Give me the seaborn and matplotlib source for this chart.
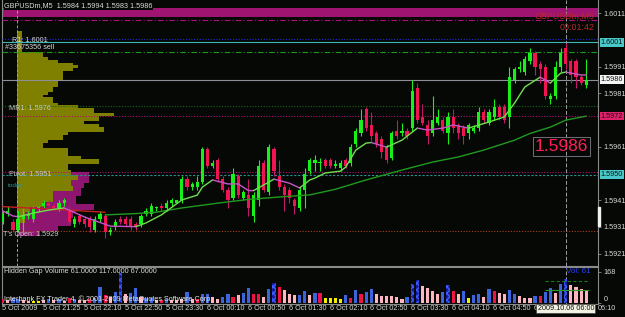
import numpy as np
import matplotlib
matplotlib.use("Agg")
import matplotlib.pyplot as plt
import matplotlib.transforms as mtransforms
from matplotlib.patches import Rectangle
import seaborn as sns

# ---------------- data ----------------
opens = [1.5933,1.5936,1.5933,1.5930,1.5934,1.5935,1.5934,1.5938,1.5939,1.5940,
         1.5939,1.5938,1.5940,1.5937,1.5932,1.5935,1.5934,1.5934,1.5930,1.5934,
         1.5935,1.5929,1.5931,1.5934,1.5934,1.5934,1.5932,1.5932,1.5936,1.5936,
         1.5938,1.5939,1.5938,1.5940,1.5940,1.5941,1.5949,1.5946,1.5946,1.5948,
         1.5960,1.5954,1.5956,1.5949,1.5945,1.5942,1.5950,1.5942,1.5943,1.5935,
         1.5941,1.5955,1.5944,1.5960,1.5950,1.5946,1.5945,1.5941,1.5938,1.5945,
         1.5952,1.5955,1.5955,1.5956,1.5956,1.5954,1.5953,1.5956,1.5955,1.5962,
         1.5966,1.5975,1.5969,1.5966,1.5964,1.5961,1.5957,1.5967,1.5966,1.5967,
         1.5968,1.5983,1.5972,1.5969,1.5966,1.5970,1.5971,1.5966,1.5972,1.5969,
         1.5968,1.5966,1.5967,1.5968,1.5974,1.5970,1.5972,1.5976,1.5976,1.5972,
         1.5986,1.5990,1.5989,1.5993,1.5996,1.5992,1.5991,1.5979,1.5980,1.5991,
         1.5998,1.5993,1.5993,1.5987,1.5984]
highs = [1.5937,1.5939,1.5934,1.5937,1.5938,1.5937,1.5939,1.5939,1.5941,1.5941,
         1.5940,1.5941,1.5942,1.5939,1.5935,1.5936,1.5935,1.5935,1.5935,1.5937,
         1.5936,1.5931,1.5934,1.5935,1.5935,1.5935,1.5933,1.5936,1.5938,1.5940,
         1.5939,1.5940,1.5941,1.5942,1.5941,1.5950,1.5950,1.5948,1.5950,1.5961,
         1.5961,1.5956,1.5957,1.5950,1.5946,1.5953,1.5951,1.5945,1.5949,1.5944,
         1.5956,1.5956,1.5962,1.5961,1.5956,1.5947,1.5946,1.5942,1.5946,1.5953,
         1.5957,1.5958,1.5957,1.5957,1.5957,1.5956,1.5956,1.5957,1.5962,1.5968,
         1.5975,1.5976,1.5974,1.5967,1.5965,1.5962,1.5967,1.5971,1.5970,1.5968,
         1.5986,1.5985,1.5977,1.5971,1.5980,1.5975,1.5972,1.5974,1.5975,1.5970,
         1.5969,1.5970,1.5969,1.5976,1.5975,1.5975,1.5979,1.5977,1.5977,1.5991,
         1.5991,1.5993,1.5995,1.5998,1.5997,1.5993,1.5992,1.5981,1.5993,1.5998,
         1.6000,1.5994,1.5994,1.5988,1.5994]
lows = [1.5932,1.5935,1.5929,1.5929,1.5929,1.5934,1.5933,1.5937,1.5938,1.5938,
        1.5937,1.5937,1.5939,1.5932,1.5931,1.5932,1.5931,1.5929,1.5929,1.5933,
        1.5927,1.5928,1.5930,1.5932,1.5931,1.5930,1.5930,1.5931,1.5935,1.5935,
        1.5937,1.5937,1.5937,1.5939,1.5940,1.5940,1.5945,1.5945,1.5945,1.5947,
        1.5953,1.5953,1.5948,1.5944,1.5938,1.5941,1.5942,1.5941,1.5935,1.5933,
        1.5939,1.5944,1.5943,1.5950,1.5945,1.5937,1.5940,1.5936,1.5937,1.5938,
        1.5951,1.5952,1.5952,1.5953,1.5953,1.5953,1.5952,1.5953,1.5954,1.5961,
        1.5965,1.5967,1.5963,1.5961,1.5957,1.5955,1.5956,1.5964,1.5965,1.5964,
        1.5967,1.5970,1.5969,1.5962,1.5965,1.5969,1.5966,1.5962,1.5966,1.5964,
        1.5962,1.5964,1.5966,1.5967,1.5970,1.5969,1.5971,1.5971,1.5970,1.5968,
        1.5985,1.5989,1.5988,1.5992,1.5988,1.5985,1.5979,1.5977,1.5979,1.5989,
        1.5990,1.5985,1.5983,1.5984,1.5983]
closes = [1.5936,1.5937,1.5930,1.5934,1.5935,1.5936,1.5938,1.5938,1.5940,1.5939,
          1.5938,1.5940,1.5941,1.5933,1.5934,1.5933,1.5932,1.5931,1.5934,1.5936,
          1.5929,1.5930,1.5933,1.5933,1.5932,1.5931,1.5931,1.5935,1.5937,1.5939,
          1.5938,1.5938,1.5940,1.5941,1.5941,1.5949,1.5946,1.5947,1.5948,1.5960,
          1.5954,1.5955,1.5949,1.5945,1.5941,1.5951,1.5943,1.5944,1.5938,1.5943,
          1.5954,1.5945,1.5961,1.5952,1.5946,1.5943,1.5942,1.5939,1.5945,1.5951,
          1.5956,1.5956,1.5955,1.5954,1.5954,1.5954,1.5955,1.5954,1.5961,1.5967,
          1.5971,1.5968,1.5965,1.5962,1.5959,1.5956,1.5966,1.5965,1.5967,1.5965,
          1.5982,1.5971,1.5970,1.5965,1.5971,1.5972,1.5967,1.5972,1.5968,1.5966,
          1.5965,1.5969,1.5968,1.5974,1.5971,1.5974,1.5976,1.5972,1.5971,1.5987,
          1.5990,1.5991,1.5994,1.5996,1.5991,1.5990,1.5980,1.5980,1.5991,1.5996,
          1.5992,1.5988,1.5987,1.5985,1.5986]

volumes = [18,14,24,20,12,10,8,8,12,18,14,22,10,26,18,12,14,20,26,83,
           42,32,56,159,47,50,80,30,24,26,14,16,22,14,12,22,60,20,20,47,
           47,32,20,29,47,32,41,54,81,47,47,32,72,105,84,67,47,41,41,65,
           41,55,54,23,23,23,18,41,27,68,45,60,74,45,38,36,36,29,20,32,
           101,123,90,78,65,47,60,96,65,47,63,23,41,45,32,72,63,54,47,68,
           47,36,27,27,36,36,60,78,54,99,128,96,83,72,61]
volume_kind = list("rpbbppyypbpbprbpprbb"
                   "rpbhpbbpbbprbpppbprb"
                   "bppbbrpbbrrpbhrpppbb"
                   "pbryyyybrbrbbppppppb"
                   "hhppppbhrpbybbpbrppb"
                   "bpppbrbbpbhpppp")

fast_ma_bar = [0,2,3,6,9,12,16,21,26,28,31,35,38,39,41,44,46,48,49,52,53,56,58,60,61,63,
               66,67,69,71,72,75,78,81,83,86,88,91,95,98,100,102,105,107,109,110,113,114]
fast_ma_val = [1.59370,1.59351,1.59348,1.59362,1.59373,1.59381,1.59347,1.59313,1.59311,1.59325,
               1.59355,1.59411,1.59429,1.59459,1.59486,1.59471,1.59471,1.59446,1.59446,1.59478,
               1.59489,1.59474,1.59456,1.59486,1.59493,1.59512,1.59519,1.59534,1.59598,1.59624,
               1.59626,1.59609,1.59635,1.59680,1.59673,1.59680,1.59692,1.59680,1.59703,1.59722,
               1.59774,1.59834,1.59871,1.59849,1.59886,1.59890,1.59879,1.59879]
fast_ma_falling = [1,1,1,0,0,0, 1,1,1,0,0, 0,0,0,0,1, 1,1,1,0,0, 1,1,0,0,0,
                   0,0,0,0,0, 1,0,0,1,1, 1,1,0,0,0, 0,0,1,0,0, 1,1]

slow_red_bar = [0,10,20]
slow_red_val = [1.59386,1.59376,1.59365]
slow_green_bar = [20,26,30,35,42,48,54,60,65,71,78,84,89,94,100,103,107,110,114]
slow_green_val = [1.59355,1.59360,1.59365,1.59381,1.59399,1.59413,1.59422,1.59430,1.59451,1.59486,
                  1.59523,1.59553,1.59572,1.59598,1.59635,1.59660,1.59684,1.59710,1.59725]

profile_price = [1.6004,1.6003,1.6002,1.6001,1.6000,1.5999,1.5998,1.5997,1.5996,1.5995,
                 1.5994,1.5993,1.5992,1.5991,1.5990,1.5989,1.5988,1.5987,1.5986,1.5985,
                 1.5984,1.5983,1.5982,1.5981,1.5980,1.5979,1.5978,1.5977,1.5976,1.5975,
                 1.5974,1.5973,1.5972,1.5971,1.5970,1.5969,1.5968,1.5967,1.5966,1.5965,
                 1.5964,1.5963,1.5962,1.5961,1.5960,1.5959,1.5958,1.5957,1.5956,1.5955,
                 1.5954,1.5953,1.5952,1.5951,1.5950,1.5949,1.5948,1.5947,1.5946,1.5945,
                 1.5944,1.5943,1.5942,1.5941,1.5940,1.5939,1.5938,1.5937,1.5936,1.5935,
                 1.5934,1.5933]
profile_count = [2,2,2,2,2,2,2,2,10,10,
                 12,16,22,24,22,18,18,18,18,16,
                 16,14,14,12,10,14,14,16,24,30,
                 30,38,32,32,26,32,34,34,20,18,
                 18,12,10,10,20,20,20,25,32,32,
                 20,20,21,21,24,24,21,21,22,22,
                 14,14,14,14,10,10,5,5,3,3,
                 3,3]
session_price = [1.5951,1.5950,1.5949,1.5948,1.5947,1.5946,1.5945,1.5944,1.5943,1.5942,
                 1.5941,1.5940,1.5939,1.5938,1.5937,1.5936,1.5935,1.5934,1.5933,1.5932,
                 1.5931,1.5930,1.5929,1.5928]
session_count = [28,28,28,28,26,26,25,25,25,23,23,23,30,30,23,22,22,21,21,21,16,16,9,9]
profile_start_bar = 2.8

price_ticks = [1.6011, 1.5991, 1.5981, 1.5961, 1.5941, 1.5931, 1.5921]
time_tick_bar = [0,8,16,24,32,40,48,56,64,72,80,88,96,104]
time_tick_label = ["5 Oct 2009","5 Oct 21:25","5 Oct 22:10","5 Oct 22:50","5 Oct 23:30",
                   "6 Oct 00:10","6 Oct 00:50","6 Oct 01:30","6 Oct 02:10","6 Oct 02:50",
                   "6 Oct 03:30","6 Oct 04:10","6 Oct 04:50","6 Oct 05:30"]
cursor_bar = 110

band_top, band_bottom = 1.60130, 1.60097
level_lines = {  # price: (color, style)
    1.60085: ('#b0107a', (0, (5, 2, 1, 2))),
    1.60014: ('#2a2ad0', (0, (1, 1.5))),
    1.60002: ('#3cb8b8', '-'),
    1.59965: ('#1a9a1a', (0, (5, 2, 1, 2))),
    1.59862: ('#8e8e98', '-'),
    1.59764: ('#1a6a1a', (0, (1, 1.5))),
    1.59725: ('#b0107a', (0, (1, 1.5))),
    1.59516: ('#b0107a', (0, (1, 1.5))),
    1.59505: ('#2a9090', (0, (2, 1.5))),
    1.59296: ('#b04020', (0, (1, 1.5))),
}

# ---------------- style ----------------
BG = '#050805'
UP = '#18f018'
DN = '#f01452'
sns.set_style("dark", {"axes.facecolor": BG, "figure.facecolor": BG})
plt.rcParams['font.family'] = ['Liberation Sans Narrow', 'Liberation Sans', 'DejaVu Sans']
FS = 5.2
TXT = '#d8d8d8'

W, H = 625, 317
fig = plt.figure(figsize=(W / 100, H / 100), dpi=100, facecolor=BG)

def px_axes(l, t, r, b):
    return fig.add_axes([l / W, 1 - b / H, (r - l) / W, (b - t) / H])

ax = px_axes(2, 0, 598, 266)
axv = px_axes(2, 267, 598, 304.3)
for a in (ax, axv):
    a.set_facecolor(BG)
    a.grid(False)
    for s in a.spines.values():
        s.set_color('#8a8a8a')
        s.set_linewidth(0.8)
ax.spines['top'].set_visible(False)

x_lo, x_hi = -0.14, 116.3
ax.set_xlim(x_lo, x_hi)
axv.set_xlim(x_lo, x_hi)
ax.set_ylim(1.591636, 1.60160)
axv.set_ylim(-8.7, 193.5)

# ---------------- main chart ----------------
ax.axhspan(band_bottom, band_top, color='#9e1470', lw=0, zorder=1)
for p, (col, ls) in level_lines.items():
    ax.axhline(p, color=col, ls=ls, lw=0.8, zorder=3)

# volume profile
ax.barh(session_price, [c * 0.5 for c in session_count], height=0.0001, left=profile_start_bar,
        color='#8e1670', lw=0, zorder=2)
ax.barh(profile_price, [c * 0.5 for c in profile_count], height=0.0001, left=profile_start_bar,
        color='#808000', lw=0, zorder=2.2)
ax.axvline(profile_start_bar, color='#a0a0a0', ls=(0, (3, 2)), lw=0.7, zorder=3)
ax.axvline(cursor_bar, color='#a0a0a0', ls=(0, (4, 2)), lw=0.7, zorder=3)
axv.axvline(cursor_bar, color='#a0a0a0', ls=(0, (4, 2)), lw=0.7, zorder=3)

# candles
o, h, l, c = map(np.array, (opens, highs, lows, closes))
idx = np.arange(len(o))
up = c >= o
body_lo = np.minimum(o, c)
body_h = np.maximum(np.abs(c - o), 0.00004)
ax.vlines(idx[up], l[up], h[up], color=UP, lw=0.8, zorder=5)
ax.vlines(idx[~up], l[~up], h[~up], color='#c0186a', lw=0.8, zorder=5)
ax.bar(idx[up], body_h[up], bottom=body_lo[up], width=0.62, color=UP, lw=0, zorder=6)
ax.bar(idx[~up], body_h[~up], bottom=body_lo[~up], width=0.62, color=DN, lw=0, zorder=6)

# moving averages (seaborn)
def colored_runs(xs, ys, flags):
    runs, cur, f = [], [0, 1], flags[1]
    for k in range(2, len(xs)):
        if flags[k] == f:
            cur.append(k)
        else:
            runs.append((cur, f))
            cur, f = [k - 1, k], flags[k]
    runs.append((cur, f))
    return [([xs[p] for p in r], [ys[p] for p in r], fl) for r, fl in runs]

for xs, ys, fl in colored_runs(fast_ma_bar, fast_ma_val, fast_ma_falling):
    sns.lineplot(x=xs, y=ys, ax=ax, color='#c455c8' if fl else '#6ee04e', lw=1.0,
                 sort=False, estimator=None, legend=False, zorder=7)
sns.lineplot(x=slow_red_bar, y=slow_red_val, ax=ax, color='#c82020', lw=1.0,
             sort=False, estimator=None, legend=False, zorder=6.5)
sns.lineplot(x=slow_green_bar, y=slow_green_val, ax=ax, color='#1f9a1f', lw=1.0,
             sort=False, estimator=None, legend=False, zorder=6.5)
ax.set_xlim(x_lo, x_hi)
ax.set_ylim(1.591636, 1.60160)
ax.set_xlabel('')
ax.set_ylabel('')

# right price axis
ax.yaxis.tick_right()
ax.set_yticks(price_ticks)
ax.set_yticklabels([f"{p:.4f}" for p in price_ticks])
ax.tick_params(axis='y', colors='#8a8a8a', labelcolor=TXT, labelsize=FS, length=2.5, width=0.6, pad=1.5)
ax.tick_params(axis='x', bottom=False, labelbottom=False)
btr = mtransforms.blended_transform_factory(ax.transAxes, ax.transData)
for p, txt, fc in [(1.60002, "1.6001", '#48c8c8'), (1.59862, "1.5986", '#f4f4f4'),
                   (1.59725, "1.5972", '#e0206a'), (1.59505, "1.5950", '#48c8c8')]:
    ax.text(1.004, p, txt, transform=btr, ha='left', va='center', fontsize=FS, color='#101010',
            bbox=dict(fc=fc, ec='none', pad=0.6), clip_on=False, zorder=10)
ax.add_patch(Rectangle((1.0, 1.59313), 0.004, 0.00072, transform=btr, color='#f0f0f0',
                       clip_on=False, zorder=10))

# texts
ax.text(0.004, 0.979, "GBPUSDm,M5  1.5984 1.5994 1.5983 1.5986", transform=ax.transAxes,
        ha='left', va='center', fontsize=FS, color=TXT, zorder=12,
        bbox=dict(fc=BG, ec='none', pad=0.3))
ax.text(0.9935, 0.937, "GBPUSDm,M5", transform=ax.transAxes, ha='right', va='center',
        fontsize=6.4, color='#b82a2a', zorder=12)
ax.text(0.9935, 0.898, "00:01:42", transform=ax.transAxes, ha='right', va='center',
        fontsize=6.4, color='#b82a2a', zorder=12)
ax.text(1.8, 1.60008, "R1: 1.6001", fontsize=FS, color=TXT, ha='left', va='center', zorder=12)
ax.text(0.4, 1.59982, "#33675356 sell", fontsize=FS, color=TXT, ha='left', va='center', zorder=12)
ax.text(1.2, 1.59752, "MR1: 1.5976", fontsize=FS, color='#c8c8c8', ha='left', va='center', zorder=12)
ax.text(1.2, 1.59506, "Pivot: 1.5951", fontsize=FS, color='#c8c8c8', ha='left', va='center', zorder=12)
ax.text(1.0, 1.59465, "today", fontsize=FS - 0.6, color='#2a9a9a', ha='left', va='center', zorder=12)
ax.text(0.1, 1.59283, "T's Open: 1.5929", fontsize=FS, color='#c8c8c8', ha='left', va='center', zorder=12)
ax.text(109.2, 1.59611, "1.5986", fontsize=12.5, color='#ff1f5a', ha='center', va='center',
        family='Liberation Sans', zorder=12,
        bbox=dict(fc='none', ec='#707078', lw=0.7, boxstyle='square,pad=0.12'))

# ---------------- volume panel ----------------
vcol = {'b': '#3c64dc', 'r': '#ee1448', 'p': '#ffb6c1', 'y': '#f0f000', 'h': '#1a1a98'}
vol = np.array(volumes)
kinds = np.array(volume_kind)
for k, col in vcol.items():
    m = kinds == k
    if k == 'h':
        axv.bar(idx[m], vol[m], width=0.62, facecolor=col, edgecolor='#3a5cff', hatch='xxxxx',
                lw=0, zorder=4)
    else:
        axv.bar(idx[m], vol[m], width=0.62, color=col, lw=0, zorder=4)
axv.hlines(117, 106, 114.5, color='#1a7a1a', ls=(0, (3, 2)), lw=0.8, zorder=5)
axv.hlines(67, 106, 114.5, color='#2a9a2a', lw=0.8, zorder=5)
axv.yaxis.tick_right()
axv.set_yticks([0, 168])
axv.set_yticklabels(["0", "168"])
axv.tick_params(axis='y', colors='#8a8a8a', labelcolor=TXT, labelsize=FS, length=2.5, width=0.6, pad=1.5)
axv.get_yticklabels()[0].set_va('bottom')
axv.tick_params(axis='x', bottom=False, labelbottom=False)
axv.text(0.004, 0.866, "Hidden Gap Volume 61.0000 117.0000 67.0000", transform=axv.transAxes,
         ha='left', va='center', fontsize=FS, color=TXT, zorder=8)
axv.text(0.004, 0.13, "Interbank FX Trader 4, \u00a9 2001-2009 MetaQuotes Software Corp.",
         transform=axv.transAxes, ha='left', va='center', fontsize=FS, color='#e8e8e8', zorder=8)
axv.text(cursor_bar, 0.88, "Vol: 61", transform=mtransforms.blended_transform_factory(axv.transData, axv.transAxes),
         ha='left', va='center', fontsize=5.8, color='#2a40ff', zorder=8)

# time labels
bt = mtransforms.blended_transform_factory(axv.transData, axv.transAxes)
for b, lab in zip(time_tick_bar, time_tick_label):
    axv.text(b - 0.15, -0.12, lab, transform=bt, ha='left', va='center', fontsize=FS,
             color=TXT, clip_on=False)
axv.text(1.0, -0.12, "06:10", transform=axv.transAxes, ha='left', va='center', fontsize=FS,
         color=TXT, clip_on=False)
axv.text(cursor_bar, -0.12, "2009.10.06 06:00", transform=bt, ha='center', va='center',
         fontsize=FS, color='#101010', clip_on=False, zorder=20,
         bbox=dict(fc='#f2f2e2', ec='#404040', lw=0.5, pad=0.8))

fig.savefig("out.png", dpi=100, facecolor=BG)
